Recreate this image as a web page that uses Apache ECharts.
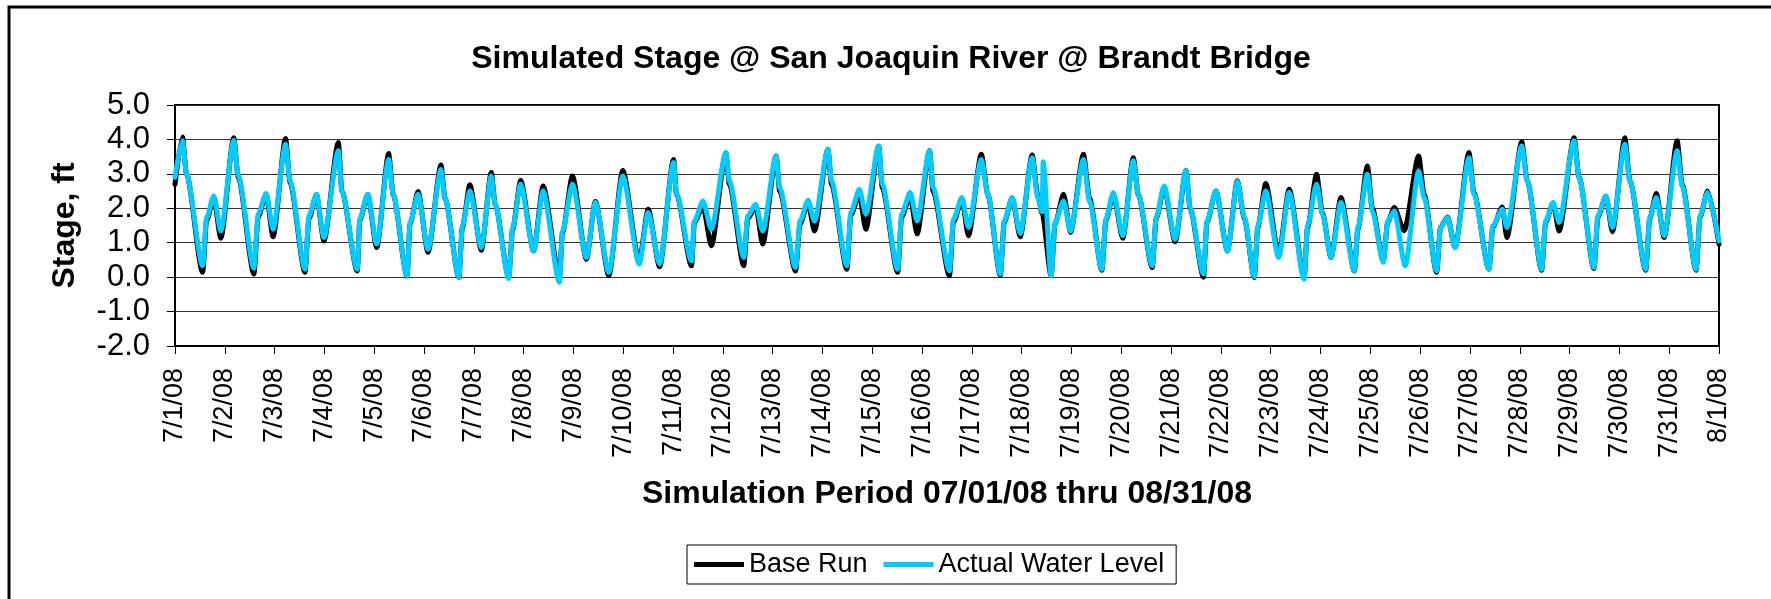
<!DOCTYPE html>
<html>
<head>
<meta charset="utf-8">
<title>Simulated Stage @ San Joaquin River @ Brandt Bridge</title>
<script src="https://cdn.jsdelivr.net/npm/echarts@6/dist/echarts.min.js"></script>
<style>
  html, body { margin: 0; padding: 0; background: #fff; }
  #chart { width: 1771px; height: 599px; }
</style>
</head>
<body>
<div id="chart"></div>
<script>
// Time of each reading, in days after 7/1/08 00:00 (turning points of the tide)
const stageTime = [
  0.00,
  0.15, 0.23, 0.555, 0.635, 0.78, 0.92,
  1.18, 1.27, 1.585, 1.67, 1.83, 1.97,
  2.22, 2.31, 2.61, 2.69, 2.84, 2.99,
  3.28, 3.35, 3.66, 3.71, 3.87, 4.05,
  4.29, 4.38, 4.66, 4.72, 4.88, 5.08,
  5.34, 5.42, 5.70, 5.77, 5.92, 6.15,
  6.35, 6.43, 6.70, 6.78, 6.94, 7.20,
  7.39, 7.72, 7.78, 7.98, 8.26, 8.44, 8.71,
  8.99, 9.32, 9.50, 9.73,
  10.01, 10.07, 10.37, 10.43, 10.60, 10.77,
  11.06, 11.13, 11.42, 11.50, 11.66, 11.80,
  12.07, 12.14, 12.46, 12.55, 12.71, 12.84,
  13.11, 13.18, 13.49, 13.57, 13.74, 13.87,
  14.13, 14.20, 14.51, 14.59, 14.76, 14.90,
  15.15, 15.22, 15.55, 15.63, 15.80, 15.93,
  16.19, 16.32, 16.57, 16.65, 16.81, 16.97,
  17.21, 17.32, 17.41, 17.43, 17.59, 17.67, 17.84, 17.98,
  18.24, 18.36, 18.61, 18.69, 18.84, 19.03,
  19.24, 19.34, 19.62, 19.70, 19.86, 20.08,
  20.30, 20.38, 20.65, 20.72, 20.90, 21.13,
  21.33, 21.47, 21.67, 21.74, 21.90, 22.16,
  22.37, 22.67, 22.74, 22.92, 23.04, 23.21,
  23.41, 23.68, 23.75, 23.94, 24.04, 24.26, 24.35, 24.48, 24.68, 24.70,
  24.97, 25.08, 25.33, 25.41, 25.55, 25.70,
  25.98, 26.08, 26.38, 26.46, 26.65, 26.74,
  27.04, 27.15, 27.44, 27.52, 27.67, 27.79,
  28.09, 28.19, 28.49, 28.57, 28.73, 28.86,
  29.11, 29.21, 29.53, 29.61, 29.74, 29.90,
  30.16, 30.26, 30.54, 30.62, 30.77, 31.00
];

// Base Run stage, ft (null where the run has no separate turning point)
const baseRun = [
  2.70,
  4.07, 3.00, 0.14, 1.65, 2.30, 1.13,
  4.05, 2.90, 0.09, 1.75, 2.40, 1.17,
  4.03, 2.75, 0.14, 1.70, 2.40, 1.05,
  3.91, 2.50, 0.18, 1.65, 2.40, 0.86,
  3.59, 2.40, 0.03, 1.55, 2.49, 0.72,
  3.26, 2.30, 0.00, 1.45, 2.68, 0.78,
  3.04, 2.10, 0.00, 1.40, 2.81, 0.76,
  2.65, 0.00, 1.30, 2.94, 0.52, 2.20, 0.04,
  3.10, 0.47, 1.97, 0.30,
  3.42, 2.40, 0.33, 1.60, 2.05, 0.91,
  3.60, 2.70, 0.33, 1.70, 2.05, 0.96,
  3.52, 2.50, 0.18, 1.55, 2.15, 1.34,
  3.71, 2.70, 0.23, 1.80, 2.40, 1.39,
  3.80, 2.60, 0.14, 1.75, 2.35, 1.25,
  3.67, 2.50, 0.04, 1.60, 2.25, 1.20,
  3.57, 2.40, 0.05, 1.60, 2.30, 1.17,
  3.55, 2.40, 1.85, null, 0.04, 1.55, 2.41, 1.30,
  3.57, 2.30, 0.20, 1.65, 2.40, 1.13,
  3.47, 2.40, 0.28, 1.70, 2.60, 1.03,
  3.10, 2.00, 0.00, 1.60, 2.50, 0.76,
  2.80, 1.70, -0.01, 1.45, 2.72, 0.67,
  2.55, 0.00, 1.45, 2.99, 1.85, 0.57,
  2.31, 0.18, 1.40, 3.23, 2.00, 0.47, 1.60, 2.02, 1.35, null,
  3.52, 2.40, 0.14, 1.45, 1.75, 0.86,
  3.62, 2.45, 0.23, 1.45, 2.04, 1.15,
  3.93, 2.80, 0.20, 1.60, 2.15, 1.34,
  4.05, 2.90, 0.25, 1.75, 2.35, 1.32,
  4.05, 2.80, 0.20, 1.70, 2.43, 1.15,
  3.96, 2.70, 0.20, 1.75, 2.50, 0.96
];

// Actual Water Level, ft (null where the record has no separate turning point)
const actualLevel = [
  2.90,
  3.96, 3.00, 0.33, 1.73, 2.36, 1.34,
  3.97, 2.95, 0.26, 1.83, 2.43, 1.39,
  3.86, 2.80, 0.23, 1.78, 2.41, 1.15,
  3.67, 2.50, 0.23, 1.68, 2.41, 0.96,
  3.42, 2.41, 0.04, 1.59, 2.41, 0.81,
  3.13, 2.30, 0.01, 1.49, 2.50, 0.86,
  2.94, 2.10, -0.04, 1.44, 2.70, 0.76,
  2.50, -0.15, 1.34, 2.70, 0.57, 2.17, 0.14,
  2.94, 0.38, 1.88, 0.38,
  3.33, 2.41, 0.47, 1.63, 2.21, 1.39,
  3.62, 2.80, 0.57, 1.78, 2.12, 1.34,
  3.52, 2.60, 0.28, 1.63, 2.23, 1.63,
  3.71, 2.80, 0.33, 1.88, 2.55, 1.83,
  3.81, 2.70, 0.23, 1.83, 2.46, 1.63,
  3.67, 2.60, 0.18, 1.68, 2.31, 1.44,
  3.42, 2.40, 0.09, 1.63, 2.31, 1.27,
  3.47, 2.31, 1.90, 3.35, 0.04, 1.59, 2.21, 1.34,
  3.42, 2.21, 0.23, 1.68, 2.46, 1.20,
  3.38, 2.41, 0.33, 1.73, 2.65, 1.10,
  3.10, 2.02, 0.09, 1.63, 2.50, 0.76,
  2.78, 1.73, 0.01, 1.49, 2.50, 0.57,
  2.46, -0.06, 1.49, 2.70, 1.83, 0.57,
  2.17, 0.18, 1.44, 2.99, 1.92, 0.43, 1.63, 1.92, null, 0.33,
  3.08, 2.31, 0.18, 1.44, 1.73, 0.86,
  3.47, 2.41, 0.23, 1.49, 1.97, 1.44,
  3.81, 2.80, 0.23, 1.63, 2.17, 1.59,
  3.96, 2.90, 0.28, 1.78, 2.36, 1.44,
  3.86, 2.80, 0.23, 1.73, 2.31, 1.20,
  3.67, 2.65, 0.23, 1.78, 2.46, 1.05
];

// Day tick labels along the bottom axis
const dateLabels = [
  '7/1/08', '7/2/08', '7/3/08', '7/4/08', '7/5/08', '7/6/08', '7/7/08', '7/8/08',
  '7/9/08', '7/10/08', '7/11/08', '7/12/08', '7/13/08', '7/14/08', '7/15/08', '7/16/08',
  '7/17/08', '7/18/08', '7/19/08', '7/20/08', '7/21/08', '7/22/08', '7/23/08', '7/24/08',
  '7/25/08', '7/26/08', '7/27/08', '7/28/08', '7/29/08', '7/30/08', '7/31/08', '8/1/08'
];

const FONT = '"Liberation Sans", Arial, Helvetica, sans-serif';

function pairs(times, values) {
  const out = [];
  for (let i = 0; i < times.length; i++) {
    if (values[i] !== null) out.push([times[i], values[i]]);
  }
  return out;
}

const chart = echarts.init(document.getElementById('chart'), null, { renderer: 'canvas' });

chart.setOption({
  animation: false,
  backgroundColor: '#ffffff',
  title: {
    text: 'Simulated Stage @ San Joaquin River @ Brandt Bridge',
    left: 886,
    top: 38,
    textAlign: 'center',
    textStyle: { fontFamily: FONT, fontSize: 32, fontWeight: 'bold', color: '#000' }
  },
  graphic: [{
    type: 'rect',
    shape: { x: 9, y: 7, width: 2000, height: 1000 },
    style: { fill: 'none', stroke: '#000', lineWidth: 3 },
    silent: true
  }],
  legend: {
    data: ['Base Run', 'Actual Water Level'],
    left: 687,
    top: 545,
    orient: 'horizontal',
    icon: 'rect',
    itemWidth: 50,
    itemHeight: 5,
    itemGap: 16,
    padding: [6, 12, 6, 7],
    borderColor: '#000',
    borderWidth: 1,
    textStyle: { fontFamily: FONT, fontSize: 27, color: '#000' }
  },
  grid: {
    left: 175, right: 52, top: 105, bottom: 253,
    show: true, borderColor: '#000', borderWidth: 2, backgroundColor: 'transparent'
  },
  xAxis: {
    type: 'value',
    min: 0, max: 31, interval: 1,
    name: 'Simulation Period 07/01/08 thru 08/31/08',
    nameLocation: 'middle',
    nameGap: 132,
    nameTextStyle: { fontFamily: FONT, fontSize: 32, fontWeight: 'bold', color: '#000' },
    axisLine: { show: true, onZero: false, lineStyle: { color: '#000', width: 2 } },
    axisTick: { show: true, inside: false, length: 8, lineStyle: { color: '#000', width: 1 } },
    axisLabel: {
      rotate: 90, margin: 22,
      fontFamily: FONT, fontSize: 27, color: '#000',
      formatter: v => dateLabels[Math.round(v)] || ''
    },
    splitLine: { show: false }
  },
  yAxis: {
    type: 'value',
    min: -2, max: 5, interval: 1,
    name: 'Stage, ft',
    nameLocation: 'middle',
    nameGap: 94,
    nameTextStyle: { fontFamily: FONT, fontSize: 32, fontWeight: 'bold', color: '#000' },
    axisLine: { show: true, lineStyle: { color: '#000', width: 2 } },
    axisTick: { show: true, inside: false, length: 8, lineStyle: { color: '#000', width: 1 } },
    axisLabel: {
      margin: 25, fontFamily: FONT, fontSize: 31, color: '#000',
      formatter: v => v.toFixed(1)
    },
    splitLine: { show: true, lineStyle: { color: '#333', width: 1 } }
  },
  series: [
    {
      name: 'Base Run',
      type: 'line',
      data: pairs(stageTime, baseRun),
      symbol: 'none',
      smooth: 0.25,
      smoothMonotone: 'x',
      connectNulls: true,
      lineStyle: { color: '#000000', width: 5, join: 'round', cap: 'round' },
      itemStyle: { color: '#000000' },
      z: 2
    },
    {
      name: 'Actual Water Level',
      type: 'line',
      data: pairs(stageTime, actualLevel),
      symbol: 'none',
      smooth: 0.25,
      smoothMonotone: 'x',
      connectNulls: true,
      lineStyle: { color: '#00CCFF', width: 5, join: 'round', cap: 'round' },
      itemStyle: { color: '#00CCFF' },
      z: 3
    }
  ]
});
</script>
</body>
</html>
